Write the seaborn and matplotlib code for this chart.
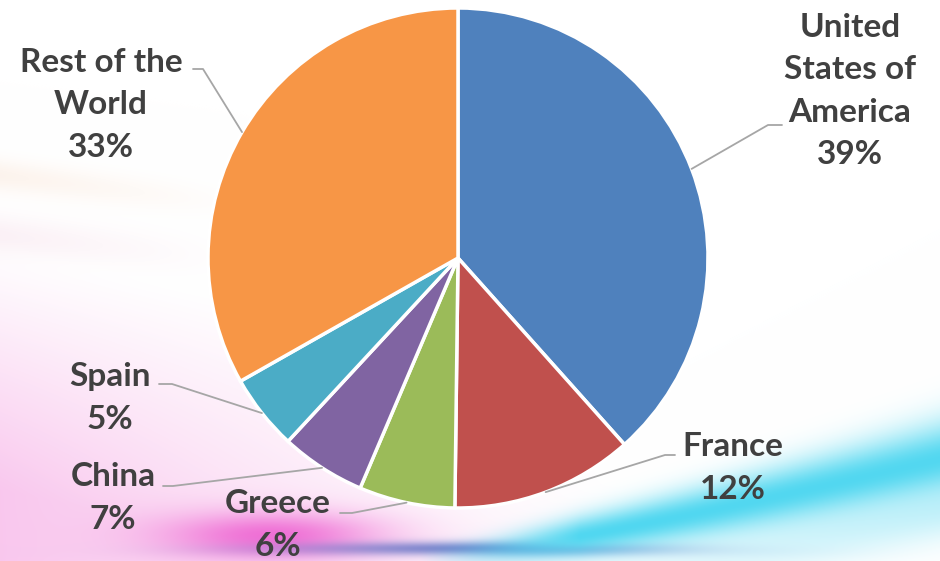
import matplotlib
matplotlib.use("Agg")
import matplotlib.pyplot as plt
import numpy as np
import seaborn as sns

# slice sizes, clockwise from 12 o'clock
countries = ["United\nStates of\nAmerica", "France", "Greece", "China", "Spain", "Rest of the\nWorld"]
shares = [38.4, 11.8, 6.2, 5.5, 4.9, 33.2]
pct_labels = ["39%", "12%", "6%", "7%", "5%", "33%"]
slice_colors = ["#4F81BD", "#C0504D", "#9BBB59", "#8064A2", "#4BACC6", "#F79646"]

# label block centres and leader elbows (data units, pie radius = 1)
label_pos = [(1.568, 0.668), (1.10, -0.84), (-0.72, -1.068), (-1.38, -0.96), (-1.392, -0.56), (-1.428, 0.612)]
elbow_pos = [(1.24, 0.532), (0.828, -0.788), (-0.424, -1.02), (-1.14, -0.912), (-1.144, -0.504), (-1.02, 0.756)]
elbow_end = [(1.296, 0.532), (0.868, -0.788), (-0.472, -1.02), (-1.18, -0.912), (-1.196, -0.504), (-1.06, 0.756)]


def make_background(w=940, h=561):
    X, Y = np.meshgrid(np.arange(w), np.arange(h))
    img = np.ones((h, w, 3))

    def blend(color, alpha):
        c = np.array(color) / 255.0
        a = np.clip(alpha, 0, 1)[..., None]
        return img * (1 - a) + c * a

    # soft pink wash bottom-left
    pink = np.clip((Y - 250 - 0.2 * X) / 240, 0, 1) * np.clip(1 - X / 620, 0, 1)
    img = blend((248, 190, 235), pink * 0.85)
    # faint warm streaks upper-left
    streak = np.exp(-((Y - 175 - 0.12 * X) / 16) ** 2) * np.clip(1 - X / 260, 0, 1)
    img = blend((250, 230, 215), streak * 0.45)
    streak2 = np.exp(-((Y - 235 - 0.1 * X) / 20) ** 2) * np.clip(1 - X / 240, 0, 1)
    img = blend((245, 215, 230), streak2 * 0.35)
    # magenta glow
    mag = np.exp(-((X - 270) / 110) ** 2 - ((Y - 535) / 24) ** 2)
    img = blend((238, 100, 210), mag * 0.9)
    # dark blue streak at the bottom
    yb = 548 + 0.00002 * (X - 450) ** 2
    blue = np.exp(-((Y - yb) / 7) ** 2) * np.exp(-((X - 480) / 190) ** 2)
    img = blend((80, 100, 190), blue * 0.75)
    # cyan swoosh bottom-right
    t = np.clip((X - 420) / 520, 0, 1)
    yc = 560 - 100 * t ** 1.2
    hw = 12 + 26 * t
    cyan = np.exp(-((Y - yc) / hw) ** 2) * np.clip((X - 420) / 160, 0, 1)
    img = blend((80, 215, 240), cyan)
    glow = np.exp(-((Y - yc - 50) / 30) ** 2) * t
    img = blend((170, 235, 248), glow * 0.6)
    return img


sns.set_theme(style="white")
plt.rcParams["font.family"] = ["Lato", "DejaVu Sans"]

fig = plt.figure(figsize=(9.4, 5.61), dpi=100)
bg = fig.add_axes([0, 0, 1, 1], zorder=0)
bg.imshow(make_background(), aspect="auto", extent=[0, 940, 561, 0])
bg.axis("off")

ax = fig.add_axes([0, 0, 1, 1], zorder=1)
ax.patch.set_alpha(0)
palette = sns.color_palette(slice_colors)
wedges, _ = ax.pie(shares, colors=palette, startangle=90, counterclock=False,
                   radius=1, wedgeprops=dict(edgecolor="white", linewidth=2.5))

for w, name, pct, tp, ep, ee in zip(wedges, countries, pct_labels, label_pos, elbow_pos, elbow_end):
    ang = np.deg2rad((w.theta1 + w.theta2) / 2)
    rim = (np.cos(ang), np.sin(ang))
    ax.plot([rim[0], ep[0], ee[0]], [rim[1], ep[1], ee[1]], color="#a6a6a6", lw=1.3, zorder=3)
    ax.text(tp[0], tp[1], f"{name}\n{pct}", ha="center", va="center", linespacing=1.55,
            fontsize=24, fontweight="bold", color="#404040", zorder=4)

ax.set_xlim(-458 / 250, (940 - 458) / 250)
ax.set_ylim(-(561 - 258) / 250, 258 / 250)
ax.set_aspect("equal")
ax.axis("off")

fig.savefig("out.png", dpi=100)
